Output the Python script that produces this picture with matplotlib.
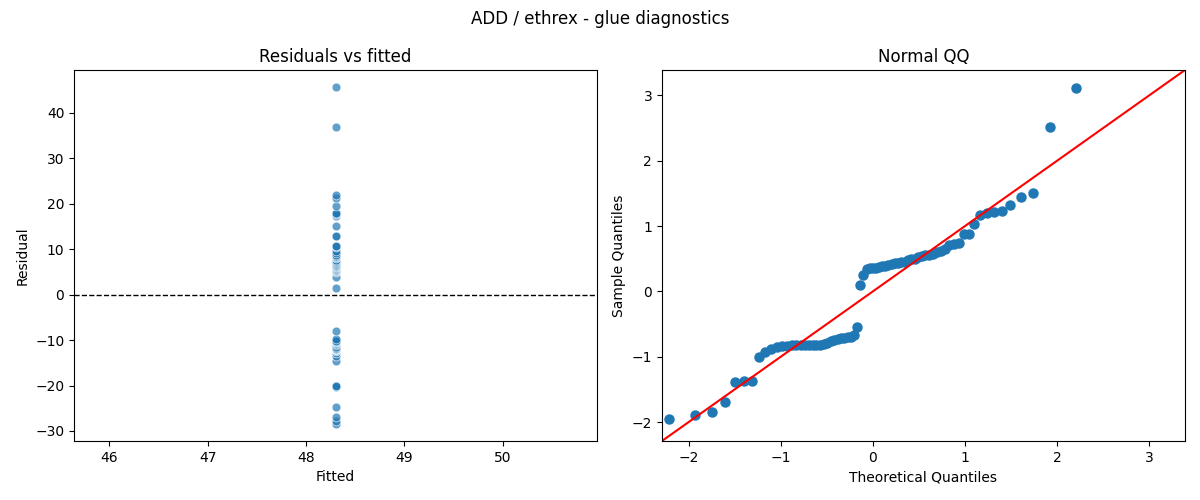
import numpy as np
import matplotlib
matplotlib.use("Agg")
import matplotlib.pyplot as plt
from statistics import NormalDist

# ---- data ----
fitted_value = 48.3
residuals = [
    -28.5, -27.7, -27.0, -24.7, -20.3, -20.1, -20.1, -14.7, -13.6, -12.8,
    -12.4, -12.1, -12.1, -12.0, -12.0, -12.0, -12.0, -12.0, -12.0, -12.0,
    -12.0, -11.8, -11.5, -11.1, -10.8, -10.7, -10.5, -10.4, -10.2, -10.1,
    -9.8, -8.0, 1.5, 3.8, 5.0, 5.3, 5.3, 5.4, 5.5, 5.7,
    5.8, 6.0, 6.1, 6.3, 6.4, 6.6, 6.7, 7.0, 7.2, 7.3,
    7.7, 8.0, 8.2, 8.3, 8.5, 8.8, 9.1, 9.6, 10.5, 10.7,
    10.8, 12.8, 13.0, 15.2, 17.2, 17.7, 17.8, 18.0, 19.4, 21.3,
    22.0, 36.8, 45.7,
]
suptitle = "ADD / ethrex - glue diagnostics"
qq_limits = (-2.29, 3.39)

resid = np.asarray(residuals, dtype=float)
n = resid.size
fitted = np.full(n, fitted_value)

# QQ computation (standardised sample vs normal quantiles)
sample_q = np.sort((resid - resid.mean()) / resid.std())
nd = NormalDist()
theo_q = np.array([nd.inv_cdf(i / (n + 1)) for i in range(1, n + 1)])

fig, (ax1, ax2) = plt.subplots(1, 2, figsize=(12, 5), dpi=100)
fig.subplots_adjust(left=0.0617, right=0.9875, top=0.86, bottom=0.118, wspace=0.124)
fig.suptitle(suptitle, fontsize=12, y=0.98)

ax1.scatter(fitted, resid, s=40, color="C0", alpha=0.7,
            edgecolors="white", linewidths=0.6)
ax1.axhline(0, color="black", linestyle="--", linewidth=1)
ax1.set_title("Residuals vs fitted")
ax1.set_xlabel("Fitted")
ax1.set_ylabel("Residual")

ax2.plot(theo_q, sample_q, "o", color="C0", markersize=6.5, linestyle="none")
ax2.plot(qq_limits, qq_limits, color="red", linewidth=1.5)
ax2.set_xlim(qq_limits)
ax2.set_ylim(qq_limits)
ax2.set_title("Normal QQ")
ax2.set_xlabel("Theoretical Quantiles")
ax2.set_ylabel("Sample Quantiles")

fig.savefig("out.png", dpi=100)
